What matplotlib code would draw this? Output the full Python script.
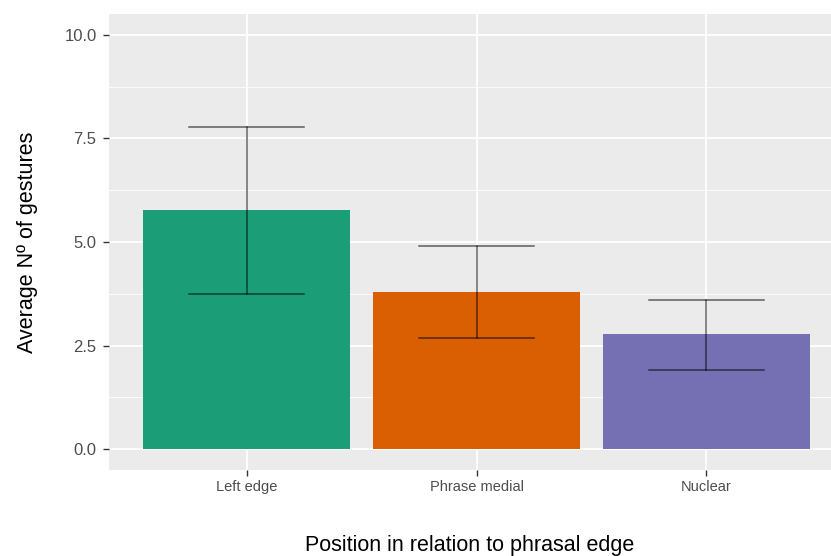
import matplotlib
matplotlib.use('Agg')
import matplotlib.pyplot as plt
from matplotlib.ticker import MultipleLocator, FormatStrFormatter
import numpy as np

# ── Data ──────────────────────────────────────────────────────────────────────
categories = ["Left edge", "Phrase medial", "Nuclear"]
means = [5.76, 3.80, 2.77]
err_low = [3.75, 2.68, 1.91]
err_high = [7.78, 4.90, 3.60]
bar_colors = ["#1B9E77", "#D95F02", "#7570B3"]

# ── Figure ────────────────────────────────────────────────────────────────────
plt.rcParams['font.family'] = ['Liberation Sans', 'DejaVu Sans']

fig = plt.figure(figsize=(8.31, 5.56), dpi=100)
fig.patch.set_facecolor('white')
ax = fig.add_axes([0.1312, 0.1547, 0.8688, 0.8201])
ax.set_facecolor('#EBEBEB')

x = np.arange(1, len(categories) + 1)
ax.bar(x, means, width=0.9, color=bar_colors, zorder=2)

# error bars (ggplot-style, semi-transparent black)
for xi, lo, hi in zip(x, err_low, err_high):
    ax.plot([xi, xi], [lo, hi], color='black', alpha=0.6, lw=1.1, zorder=3)
    ax.plot([xi - 0.25, xi + 0.25], [lo, lo], color='black', alpha=0.6, lw=1.1, zorder=3)
    ax.plot([xi - 0.25, xi + 0.25], [hi, hi], color='black', alpha=0.6, lw=1.1, zorder=3)

ax.set_xlim(0.4, 3.543)
ax.set_ylim(-0.5, 10.5)
ax.set_xticks(x)
ax.set_xticklabels(categories)
ax.yaxis.set_major_locator(MultipleLocator(2.5))
ax.yaxis.set_minor_locator(MultipleLocator(1.25))
ax.yaxis.set_major_formatter(FormatStrFormatter('%.1f'))

ax.grid(which='major', color='white', lw=1.3, zorder=0)
ax.grid(which='minor', axis='y', color='white', lw=0.6, zorder=0)
ax.set_axisbelow(True)

for s in ax.spines.values():
    s.set_visible(False)
ax.tick_params(axis='both', which='major', length=4, width=1, color='#333333',
               labelcolor='#4D4D4D')
ax.tick_params(axis='x', labelsize=10.5, pad=3)
ax.tick_params(axis='y', labelsize=12, pad=5)
ax.tick_params(axis='y', which='minor', length=0)

ax.set_xlabel("Position in relation to phrasal edge", fontsize=15.5, color='black', labelpad=30)
ax.set_ylabel("Average Nº of gestures", fontsize=15.5, color='black', labelpad=19)

fig.savefig('out.png', dpi=100, facecolor='white')
